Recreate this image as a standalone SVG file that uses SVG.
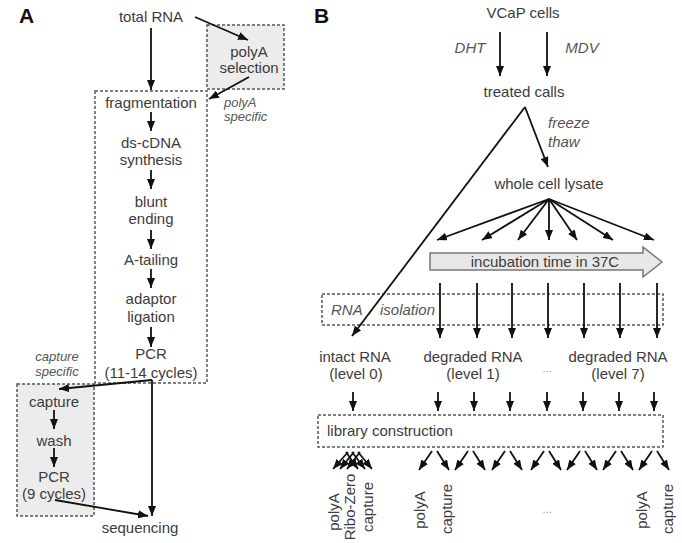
<svg xmlns="http://www.w3.org/2000/svg" width="682" height="543" viewBox="0 0 682 543">
<style>
  text { font-family: "Liberation Sans", Arial, sans-serif; font-size: 15px; fill: #3c3c3c; }
  .c { text-anchor: middle; }
  .it { font-style: italic; fill: #555; }
  .sm { font-size: 13px; }
  .lbl { font-size: 21px; font-weight: bold; fill: #111; }
  .box { fill: none; stroke: #555; stroke-width: 1.5; stroke-dasharray: 3 2; }
  .gbox { fill: #ececec; stroke: #555; stroke-width: 1.5; stroke-dasharray: 3 2; }
  .ar { stroke: #111; stroke-width: 1.8; fill: none; marker-end: url(#ah); }
  .dots { fill: #999; font-size: 11px; }
</style>
<defs>
  <marker id="ah" viewBox="0 0 10 8" refX="10" refY="4" markerWidth="10" markerHeight="8" markerUnits="userSpaceOnUse" orient="auto">
    <path d="M0,0 L10,4 L0,8 z" fill="#111"/>
  </marker>
</defs>
<rect width="682" height="543" fill="#fff"/>

<!-- Panel labels -->
<text class="lbl" x="19" y="23">A</text>
<text class="lbl" x="314" y="23">B</text>

<!-- Panel A containers -->
<g id="polyA-box"><rect class="gbox" x="207" y="25" width="77" height="64"/>
  <text class="c" x="249" y="57">polyA</text><text class="c" x="249" y="73">selection</text></g>
<g id="library-prep-box"><rect class="box" x="95" y="91" width="112" height="292"/></g>
<g id="capture-box"><rect class="gbox" x="17" y="384" width="77" height="132"/></g>

<g id="totalRNA"><text class="c" x="151" y="22">total RNA</text></g>
<g id="polyA-specific"><text class="it sm" x="224" y="107">polyA</text><text class="it sm" x="224" y="121">specific</text></g>
<g id="fragmentation"><text class="c" x="151" y="108">fragmentation</text></g>
<g id="ds-cDNA"><text class="c" x="151" y="148">ds-cDNA</text><text class="c" x="151" y="165">synthesis</text></g>
<g id="blunt"><text class="c" x="151" y="207">blunt</text><text class="c" x="151" y="224">ending</text></g>
<g id="atailing"><text class="c" x="151" y="265">A-tailing</text></g>
<g id="adaptor"><text class="c" x="151" y="304">adaptor</text><text class="c" x="151" y="322">ligation</text></g>
<g id="pcr1"><text class="c" x="151" y="359">PCR</text><text class="c" x="151" y="378">(11-14 cycles)</text></g>
<g id="capture-specific"><text class="it sm c" x="57" y="361">capture</text><text class="it sm c" x="57" y="376">specific</text></g>
<g id="capture"><text class="c" x="54" y="407">capture</text></g>
<g id="wash"><text class="c" x="54" y="446">wash</text></g>
<g id="pcr2"><text class="c" x="54" y="482">PCR</text><text class="c" x="54" y="499">(9 cycles)</text></g>
<g id="sequencing"><text class="c" x="140" y="533">sequencing</text></g>

<!-- Panel B nodes -->
<g id="vcap"><text class="c" x="523" y="18">VCaP cells</text></g>
<g id="dht"><text class="it c" x="470" y="53">DHT</text></g>
<g id="mdv"><text class="it c" x="582" y="53">MDV</text></g>
<g id="treated"><text class="c" x="524" y="97">treated calls</text></g>
<g id="freeze"><text class="it" x="548" y="128">freeze</text><text class="it" x="548" y="147">thaw</text></g>
<g id="lysate"><text class="c" x="549" y="189">whole cell lysate</text></g>
<g id="incubation">
  <path d="M430,253 H643 V247 L662,262 L643,277 V270 H430 z" fill="#e8e8e8" stroke="#777" stroke-width="1.5"/>
  <text class="c" x="545" y="267">incubation time in 37C</text>
</g>
<g id="rna-isolation"><rect class="box" x="322" y="294" width="341" height="31"/>
  <text class="it" x="331" y="315">RNA</text><text class="it" x="380" y="315">isolation</text></g>
<g id="intact"><text class="c" x="355" y="362">intact RNA</text><text class="c" x="356" y="379">(level 0)</text></g>
<g id="deg1"><text class="c" x="473" y="362">degraded RNA</text><text class="c" x="473" y="379">(level 1)</text></g>
<g id="dots1"><text class="dots c" x="547" y="372">...</text></g>
<g id="deg7"><text class="c" x="618" y="362">degraded RNA</text><text class="c" x="618" y="379">(level 7)</text></g>
<g id="library"><rect class="box" x="318" y="415" width="345" height="32"/>
  <text x="327" y="436">library construction</text></g>
<g id="methods">
  <text class="c" transform="translate(339,512) rotate(-90)">polyA</text>
  <text class="c" transform="translate(355,507) rotate(-90)">Ribo-Zero</text>
  <text class="c" transform="translate(373,507) rotate(-90)">capture</text>
  <text class="c" transform="translate(425,510) rotate(-90)">polyA</text>
  <text class="c" transform="translate(452,509) rotate(-90)">capture</text>
  <text class="dots c" x="547" y="513">...</text>
  <text class="c" transform="translate(647,510) rotate(-90)">polyA</text>
  <text class="c" transform="translate(673,509) rotate(-90)">capture</text>
</g>

<!-- Connectors -->
<g id="connectors">
  <line class="ar" x1="151" y1="28" x2="151" y2="90"/>
  <line class="ar" x1="195" y1="17" x2="248" y2="40"/>
  <line class="ar" x1="249" y1="77" x2="209" y2="99"/>
  <line class="ar" x1="151" y1="112" x2="151" y2="131"/>
  <line class="ar" x1="151" y1="170" x2="151" y2="189"/>
  <line class="ar" x1="151" y1="230" x2="151" y2="249"/>
  <line class="ar" x1="151" y1="269" x2="151" y2="288"/>
  <line class="ar" x1="151" y1="327" x2="151" y2="347"/>
  <line class="ar" x1="152" y1="380" x2="59" y2="389"/>
  <line class="ar" x1="152" y1="380" x2="152" y2="516"/>
  <line class="ar" x1="54" y1="410" x2="54" y2="429"/>
  <line class="ar" x1="54" y1="448" x2="54" y2="467"/>
  <line class="ar" x1="55" y1="500" x2="148" y2="516"/>

  <line class="ar" x1="500" y1="32" x2="500" y2="76"/>
  <line class="ar" x1="547" y1="32" x2="547" y2="76"/>
  <line class="ar" x1="525" y1="107" x2="548" y2="167"/>
  <line class="ar" x1="525" y1="107" x2="352" y2="336"/>

  <line class="ar" x1="549" y1="199" x2="437" y2="240"/>
  <line class="ar" x1="549" y1="199" x2="482" y2="240"/>
  <line class="ar" x1="549" y1="199" x2="518" y2="240"/>
  <line class="ar" x1="549" y1="199" x2="549" y2="240"/>
  <line class="ar" x1="549" y1="199" x2="577" y2="240"/>
  <line class="ar" x1="549" y1="199" x2="613" y2="240"/>
  <line class="ar" x1="549" y1="199" x2="654" y2="240"/>

  <line class="ar" x1="440" y1="283" x2="440" y2="338"/>
  <line class="ar" x1="477" y1="283" x2="477" y2="338"/>
  <line class="ar" x1="512" y1="283" x2="512" y2="338"/>
  <line class="ar" x1="548" y1="283" x2="548" y2="338"/>
  <line class="ar" x1="584" y1="283" x2="584" y2="338"/>
  <line class="ar" x1="620" y1="283" x2="620" y2="338"/>
  <line class="ar" x1="657" y1="283" x2="657" y2="338"/>

  <line class="ar" x1="353" y1="392" x2="353" y2="411"/>
  <line class="ar" x1="438" y1="392" x2="438" y2="411"/>
  <line class="ar" x1="474" y1="392" x2="474" y2="411"/>
  <line class="ar" x1="510" y1="392" x2="510" y2="411"/>
  <line class="ar" x1="547" y1="392" x2="547" y2="411"/>
  <line class="ar" x1="583" y1="392" x2="583" y2="411"/>
  <line class="ar" x1="619" y1="392" x2="619" y2="411"/>
  <line class="ar" x1="654" y1="392" x2="654" y2="411"/>

  <line class="ar" x1="348" y1="452" x2="333" y2="469"/>
  <line class="ar" x1="354" y1="452" x2="340" y2="469"/>
  <line class="ar" x1="360" y1="452" x2="347" y2="469"/>
  <line class="ar" x1="346" y1="452" x2="358" y2="469"/>
  <line class="ar" x1="352" y1="452" x2="365" y2="469"/>
  <line class="ar" x1="358" y1="452" x2="372" y2="469"/>

  <line class="ar" x1="432" y1="451" x2="419" y2="470"/>
  <line class="ar" x1="437" y1="451" x2="449" y2="470"/>
  <line class="ar" x1="468" y1="451" x2="455" y2="470"/>
  <line class="ar" x1="473" y1="451" x2="485" y2="470"/>
  <line class="ar" x1="505" y1="451" x2="492" y2="470"/>
  <line class="ar" x1="510" y1="451" x2="522" y2="470"/>
  <line class="ar" x1="544" y1="451" x2="531" y2="470"/>
  <line class="ar" x1="549" y1="451" x2="561" y2="470"/>
  <line class="ar" x1="580" y1="451" x2="567" y2="470"/>
  <line class="ar" x1="585" y1="451" x2="597" y2="470"/>
  <line class="ar" x1="616" y1="451" x2="603" y2="470"/>
  <line class="ar" x1="621" y1="451" x2="633" y2="470"/>
  <line class="ar" x1="652" y1="451" x2="639" y2="470"/>
  <line class="ar" x1="657" y1="451" x2="669" y2="470"/>
</g>
</svg>
